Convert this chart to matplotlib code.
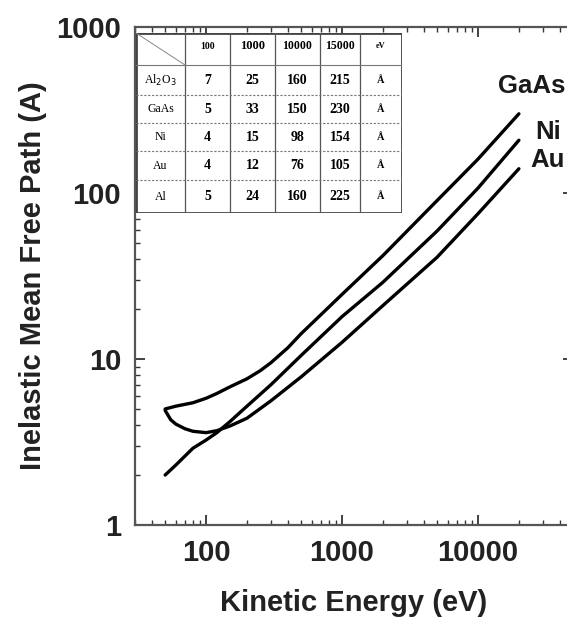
import matplotlib
matplotlib.use("Agg")
import matplotlib.pyplot as plt
from matplotlib.ticker import LogLocator, NullFormatter, FixedLocator, FixedFormatter
from matplotlib.lines import Line2D

# ---------------- data ----------------
gaas_energy = [50, 60, 80, 100, 120, 150, 200, 250, 300, 400, 500, 700, 1000, 2000, 5000, 10000, 20000]
gaas_imfp = [5.0, 5.2, 5.45, 5.8, 6.2, 6.8, 7.6, 8.5, 9.5, 11.7, 14.2, 18.5, 24.5, 42, 90, 160, 300]

ni_energy = [50, 60, 80, 100, 120, 150, 200, 300, 500, 1000, 2000, 5000, 10000, 20000]
ni_imfp = [2.0, 2.3, 2.9, 3.25, 3.6, 4.2, 5.2, 7.0, 10.5, 18, 29, 59, 107, 208]

au_energy = [50, 55, 60, 70, 80, 100, 120, 150, 200, 300, 500, 1000, 2000, 5000, 10000, 20000]
au_imfp = [4.9, 4.3, 4.05, 3.8, 3.67, 3.6, 3.7, 3.95, 4.4, 5.6, 7.8, 12.6, 21, 41, 75, 140]

curve_labels = ["GaAs", "Ni", "Au"]

table_header = ["100", "1000", "10000", "15000", "eV"]
table_rows = ["Al$_2$O$_3$", "GaAs", "Ni", "Au", "Al"]
table_values = [
    ["7", "25", "160", "215", "Å"],
    ["5", "33", "150", "230", "Å"],
    ["4", "15", "98", "154", "Å"],
    ["4", "12", "76", "105", "Å"],
    ["5", "24", "160", "225", "Å"],
]

x_ticks = [100, 1000, 10000]
x_ticklabels = ["100", "1000", "10000"]
y_ticks = [1, 10, 100, 1000]
y_ticklabels = ["1", "10", "100", "1000"]

# ---------------- figure ----------------
W, H = 567, 619
fig = plt.figure(figsize=(W / 100, H / 100), dpi=100)
fig.patch.set_facecolor("white")

L, R, T, B = 135, 573, 27, 525
ax = fig.add_axes([L / W, 1 - B / H, (R - L) / W, (B - T) / H])
ax.set_xscale("log")
ax.set_yscale("log")
ax.set_xlim(30, 50000)
ax.set_ylim(1, 1000)

lw = 2.4
ax.plot(gaas_energy, gaas_imfp, color="black", lw=lw, solid_capstyle="round", solid_joinstyle="round")
ax.plot(ni_energy, ni_imfp, color="black", lw=lw, solid_capstyle="round", solid_joinstyle="round")
ax.plot(au_energy, au_imfp, color="black", lw=lw, solid_capstyle="round", solid_joinstyle="round")

# curve labels near the end of each curve (offsets in points)
ends = [(gaas_energy[-1], gaas_imfp[-1]), (ni_energy[-1], ni_imfp[-1]), (au_energy[-1], au_imfp[-1])]
offsets = [(-15, 20), (11.5, 5.8), (8.6, 6.5)]
for name, (xe, ye), (dx, dy) in zip(curve_labels, ends, offsets):
    ax.annotate(name, xy=(xe, ye), xytext=(dx, dy), textcoords="offset points",
                fontsize=18.5, fontweight="bold", family="Liberation Sans", color="#1a1a1a",
                ha="left", va="center")

for s in ax.spines.values():
    s.set_linewidth(1.6)
    s.set_color("#555555")

ax.xaxis.set_major_locator(FixedLocator(x_ticks))
ax.xaxis.set_major_formatter(FixedFormatter(x_ticklabels))
ax.yaxis.set_major_locator(FixedLocator(y_ticks))
ax.yaxis.set_major_formatter(FixedFormatter(y_ticklabels))
ax.xaxis.set_minor_locator(LogLocator(base=10, subs=range(2, 10), numticks=20))
ax.yaxis.set_minor_locator(LogLocator(base=10, subs=range(2, 10), numticks=20))
ax.xaxis.set_minor_formatter(NullFormatter())
ax.yaxis.set_minor_formatter(NullFormatter())
ax.tick_params(which="both", direction="in", top=True, right=True, color="#333333")
ax.tick_params(which="major", length=7, width=1.3, pad=10)
ax.tick_params(which="minor", length=3.5, width=1.0)
for lab in ax.get_xticklabels() + ax.get_yticklabels():
    lab.set_fontsize(21)
    lab.set_fontweight("bold")
    lab.set_family("Liberation Sans")
    lab.set_color("#222222")

ax.set_xlabel("Kinetic Energy (eV)", fontsize=21, fontweight="bold", family="Liberation Sans", color="#222222")
ax.set_ylabel("Inelastic Mean Free Path (A)", fontsize=21, fontweight="bold", family="Liberation Sans", color="#222222")
ax.xaxis.set_label_coords(0.5, -(589 - B) / (B - T), transform=ax.transAxes)
ax.yaxis.set_label_coords(-(L - 47) / (R - L), 0.5, transform=ax.transAxes)

# ---------------- inset table ----------------
tx0, tx1, ty0, ty1 = 136, 402, 33, 213
tax = fig.add_axes([tx0 / W, 1 - ty1 / H, (tx1 - tx0) / W, (ty1 - ty0) / H])
tax.set_xlim(tx0, tx1)
tax.set_ylim(ty1, ty0)
tax.axis("off")
tax.add_patch(plt.Rectangle((tx0, ty0), tx1 - tx0, ty1 - ty0, facecolor="white",
                            edgecolor="#444444", lw=2.0, zorder=1))
col_edges = [tx0, 185, 230, 275, 320, 360, tx1]
row_edges = [ty0, 65, 95, 123, 151, 180, ty1]
for xc in col_edges[1:-1]:
    tax.add_line(Line2D([xc, xc], [ty0, ty1], color="#555555", lw=0.9, zorder=2))
for i, yr in enumerate(row_edges[1:-1]):
    tax.add_line(Line2D([tx0, tx1], [yr, yr], color="#777777", lw=0.8,
                        ls="-" if i == 0 else (0, (2, 1.5)), zorder=2))
tax.add_line(Line2D([tx0, col_edges[1]], [ty0, row_edges[1]], color="#888888", lw=0.7, zorder=2))

serif = "Liberation Serif"
header_sizes = [7, 9, 8.5, 8.5, 6]
for j, htxt in enumerate(table_header):
    xc = (col_edges[j + 1] + col_edges[j + 2]) / 2
    yc = (row_edges[0] + row_edges[1]) / 2 - 3
    tax.text(xc, yc, htxt, ha="center", va="center", fontsize=header_sizes[j], family=serif,
             fontweight="bold", zorder=3)
for i, rname in enumerate(table_rows):
    yc = (row_edges[i + 1] + row_edges[i + 2]) / 2
    tax.text((col_edges[0] + col_edges[1]) / 2, yc, rname, ha="center", va="center",
             fontsize=8.5, family=serif, zorder=3)
    for j, v in enumerate(table_values[i]):
        xc = (col_edges[j + 1] + col_edges[j + 2]) / 2
        tax.text(xc, yc, v, ha="center", va="center",
                 fontsize=10 if j < 4 else 7.5, family=serif, fontweight="bold", zorder=3)

fig.savefig("out.png", dpi=100, facecolor="white")
